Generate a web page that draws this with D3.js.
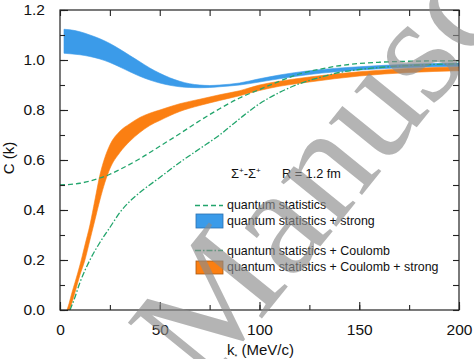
<!DOCTYPE html>
<html>
<head>
<meta charset="utf-8">
<script src="https://cdn.jsdelivr.net/npm/d3@7"></script>
<style>
  html, body { margin: 0; padding: 0; background: #fff; }
  svg { display: block; font-family: "Liberation Sans", Arial, sans-serif; }
</style>
</head>
<body>
<svg id="chart" width="474" height="359"></svg>
<script>
// ---- data ----
const xTicks = [0, 50, 100, 150, 200];
const yTicks = [0.0, 0.2, 0.4, 0.6, 0.8, 1.0, 1.2];

// quantum statistics (dashed)
const qsK = [0, 10, 20, 25, 30, 40, 50, 60, 70, 80, 90, 100, 110, 120, 130, 140, 150, 160, 175, 200];
const qsC = [0.5, 0.507, 0.528, 0.543, 0.562, 0.605, 0.655, 0.705, 0.757, 0.805, 0.848, 0.882, 0.915, 0.944, 0.963, 0.977, 0.986, 0.991, 0.995, 0.997];

// quantum statistics + Coulomb (dash-dot)
const qcK = [5, 7, 10, 15, 20, 25, 30, 35, 40, 50, 60, 70, 80, 90, 100, 110, 120, 130, 140, 150, 160, 175, 200];
const qcC = [0, 0.04, 0.11, 0.2, 0.27, 0.33, 0.39, 0.435, 0.47, 0.53, 0.59, 0.645, 0.70, 0.765, 0.825, 0.87, 0.905, 0.93, 0.95, 0.962, 0.97, 0.978, 0.985];

// quantum statistics + strong (blue band)
const qsStrongK  = [2, 5, 10, 15, 20, 25, 30, 35, 40, 45, 50, 55, 60, 65, 70, 75, 80, 90, 100, 110, 125, 150, 175, 200];
const qsStrongHi = [1.123, 1.121, 1.113, 1.1, 1.085, 1.066, 1.043, 1.018, 0.993, 0.968, 0.947, 0.929, 0.915, 0.905, 0.9, 0.898, 0.9, 0.908, 0.925, 0.94, 0.957, 0.973, 0.983, 0.988];
const qsStrongLo = [1.027, 1.025, 1.021, 1.014, 1.004, 0.99, 0.972, 0.953, 0.935, 0.92, 0.908, 0.899, 0.893, 0.89, 0.889, 0.89, 0.893, 0.9, 0.912, 0.925, 0.942, 0.96, 0.97, 0.974];

// quantum statistics + Coulomb + strong (orange band)
const qcStrongK  = [3.5, 4.5, 6, 7.5, 10, 12.5, 15, 17.5, 20, 22.5, 25, 30, 35, 40, 45, 50, 60, 70, 80, 90, 100, 110, 125, 150, 175, 200];
const qcStrongHi = [0, 0.025, 0.07, 0.11, 0.18, 0.26, 0.34, 0.44, 0.54, 0.61, 0.66, 0.715, 0.745, 0.77, 0.787, 0.80, 0.825, 0.843, 0.861, 0.877, 0.9, 0.915, 0.932, 0.953, 0.966, 0.972];
const qcStrongLo = [0, 0, 0.03, 0.07, 0.14, 0.2, 0.28, 0.36, 0.44, 0.51, 0.565, 0.63, 0.675, 0.71, 0.738, 0.758, 0.794, 0.818, 0.838, 0.857, 0.878, 0.895, 0.912, 0.936, 0.95, 0.957];

const legendLabels = ["quantum statistics", "quantum statistics + strong", "quantum statistics + Coulomb", "quantum statistics + Coulomb + strong"];

// ---- drawing ----
const svg = d3.select("#chart");
const M = {left: 60, right: 459, top: 10, bottom: 310};
const x = d3.scaleLinear().domain([0, 200]).range([M.left, M.right]);
const y = d3.scaleLinear().domain([0, 1.2]).range([M.bottom, M.top]);

const blue = "#3b9be9", orange = "#fb7f12", green = "#22a56c";

const plot = svg.append("g");
plot.append("clipPath").attr("id", "clip").append("rect")
  .attr("x", M.left).attr("y", M.top).attr("width", M.right - M.left).attr("height", M.bottom - M.top);
const g = plot.append("g").attr("clip-path", "url(#clip)");

const band = (K, lo, hi) => d3.area()
  .x((d, i) => x(K[i])).y0((d, i) => y(lo[i])).y1((d, i) => y(hi[i]))
  .curve(d3.curveMonotoneX)(K);

g.append("path").attr("d", band(qsStrongK, qsStrongLo, qsStrongHi))
  .attr("fill", blue).attr("stroke", blue).attr("stroke-width", 0.6);
g.append("path").attr("d", band(qcStrongK, qcStrongLo, qcStrongHi))
  .attr("fill", orange).attr("stroke", orange).attr("stroke-width", 0.6);

const line = (K, C) => d3.line().x((d, i) => x(K[i])).y((d, i) => y(C[i])).curve(d3.curveMonotoneX)(K);
g.append("path").attr("d", line(qsK, qsC)).attr("fill", "none")
  .attr("stroke", green).attr("stroke-width", 1.3).attr("stroke-dasharray", "5,3");
g.append("path").attr("d", line(qcK, qcC)).attr("fill", "none")
  .attr("stroke", green).attr("stroke-width", 1.3).attr("stroke-dasharray", "6,2,1.5,2");

// axes
const axisColor = "#222";
const xMinor = d3.range(0, 201, 25);
const yMinor = d3.range(0, 1.21, 0.1);
const ax = svg.append("g");
ax.append("rect").attr("x", M.left).attr("y", M.top).attr("width", M.right - M.left).attr("height", M.bottom - M.top)
  .attr("fill", "none").attr("stroke", axisColor).attr("stroke-width", 1.2);

const bottomAxis = d3.axisBottom(x).tickValues(xMinor).tickSize(-5).tickFormat("");
ax.append("g").attr("transform", `translate(0,${M.bottom})`).call(bottomAxis);
const bottomMajor = d3.axisBottom(x).tickValues(xTicks).tickSize(-8).tickPadding(14).tickFormat(d3.format("d"));
ax.append("g").attr("class", "xmaj").attr("transform", `translate(0,${M.bottom})`).call(bottomMajor);
const topAxis = d3.axisTop(x).tickValues(xMinor).tickSize(-6).tickFormat("");
ax.append("g").attr("transform", `translate(0,${M.top})`).call(topAxis);

const leftMinor = d3.axisLeft(y).tickValues(yMinor).tickSize(-5).tickFormat("");
ax.append("g").attr("transform", `translate(${M.left},0)`).call(leftMinor);
const leftMajor = d3.axisLeft(y).tickValues(yTicks).tickSize(-8).tickPadding(15).tickFormat(d3.format(".1f"));
ax.append("g").attr("class", "ymaj").attr("transform", `translate(${M.left},0)`).call(leftMajor);
const rightAxis = d3.axisRight(y).tickValues(yMinor).tickSize(-6).tickFormat("");
ax.append("g").attr("transform", `translate(${M.right},0)`).call(rightAxis);

ax.selectAll(".domain").remove();
ax.selectAll(".tick line").attr("stroke", axisColor).attr("stroke-width", 1.1);
ax.selectAll(".tick text").attr("fill", "#111").style("font-size", "15.5px").style("font-family", "Liberation Sans, Arial, sans-serif");

// axis titles
svg.append("text").attr("transform", "translate(14,158) rotate(-90)").attr("text-anchor", "middle")
  .style("font-size", "15px").attr("fill", "#111").text("C (k)");
const xt = svg.append("text").attr("x", 227).attr("y", 355).style("font-size", "15px").attr("fill", "#111");
xt.append("tspan").text("k");
xt.append("tspan").attr("dy", 4).style("font-size", "7px").text("*");
xt.append("tspan").attr("dy", -4).text(" (MeV/c)");

// annotation
const ann = svg.append("text").attr("x", 231).attr("y", 178).style("font-size", "13px").attr("fill", "#111");
ann.append("tspan").text("Σ");
ann.append("tspan").attr("dy", -5).style("font-size", "8px").text("+");
ann.append("tspan").attr("dy", 5).text("-Σ");
ann.append("tspan").attr("dy", -5).style("font-size", "8px").text("+");
svg.append("text").attr("x", 282).attr("y", 178).style("font-size", "12.7px").attr("fill", "#111").text("R = 1.2 fm");

// legend
const lg = svg.append("g").style("font-size", "12.4px").attr("fill", "#111");
const rows = [209, 225, 255, 271];
lg.append("line").attr("x1", 195).attr("x2", 223).attr("y1", 205.5).attr("y2", 205.5)
  .attr("stroke", green).attr("stroke-width", 1.3).attr("stroke-dasharray", "5,3");
lg.append("rect").attr("x", 196).attr("y", 214).attr("width", 27).attr("height", 14)
  .attr("fill", blue).attr("stroke", "#2c6fae").attr("stroke-width", 0.8);
lg.append("line").attr("x1", 195).attr("x2", 223).attr("y1", 250.5).attr("y2", 250.5)
  .attr("stroke", green).attr("stroke-width", 1.3).attr("stroke-dasharray", "6,2,1.5,2");
lg.append("rect").attr("x", 196).attr("y", 261).attr("width", 27).attr("height", 13)
  .attr("fill", orange).attr("stroke", "#a85812").attr("stroke-width", 0.8);
legendLabels.forEach((t, i) => {
  lg.append("text").attr("x", 227).attr("y", rows[i]).text(t);
});

// watermark
svg.append("text").attr("transform", "translate(204,390) rotate(-51)")
  .style("font-family", "Liberation Serif, Times New Roman, serif").style("font-size", "155px")
  .attr("fill", "#8c8c8c").attr("fill-opacity", 0.65).text("Manuscript");
</script>
</body>
</html>
